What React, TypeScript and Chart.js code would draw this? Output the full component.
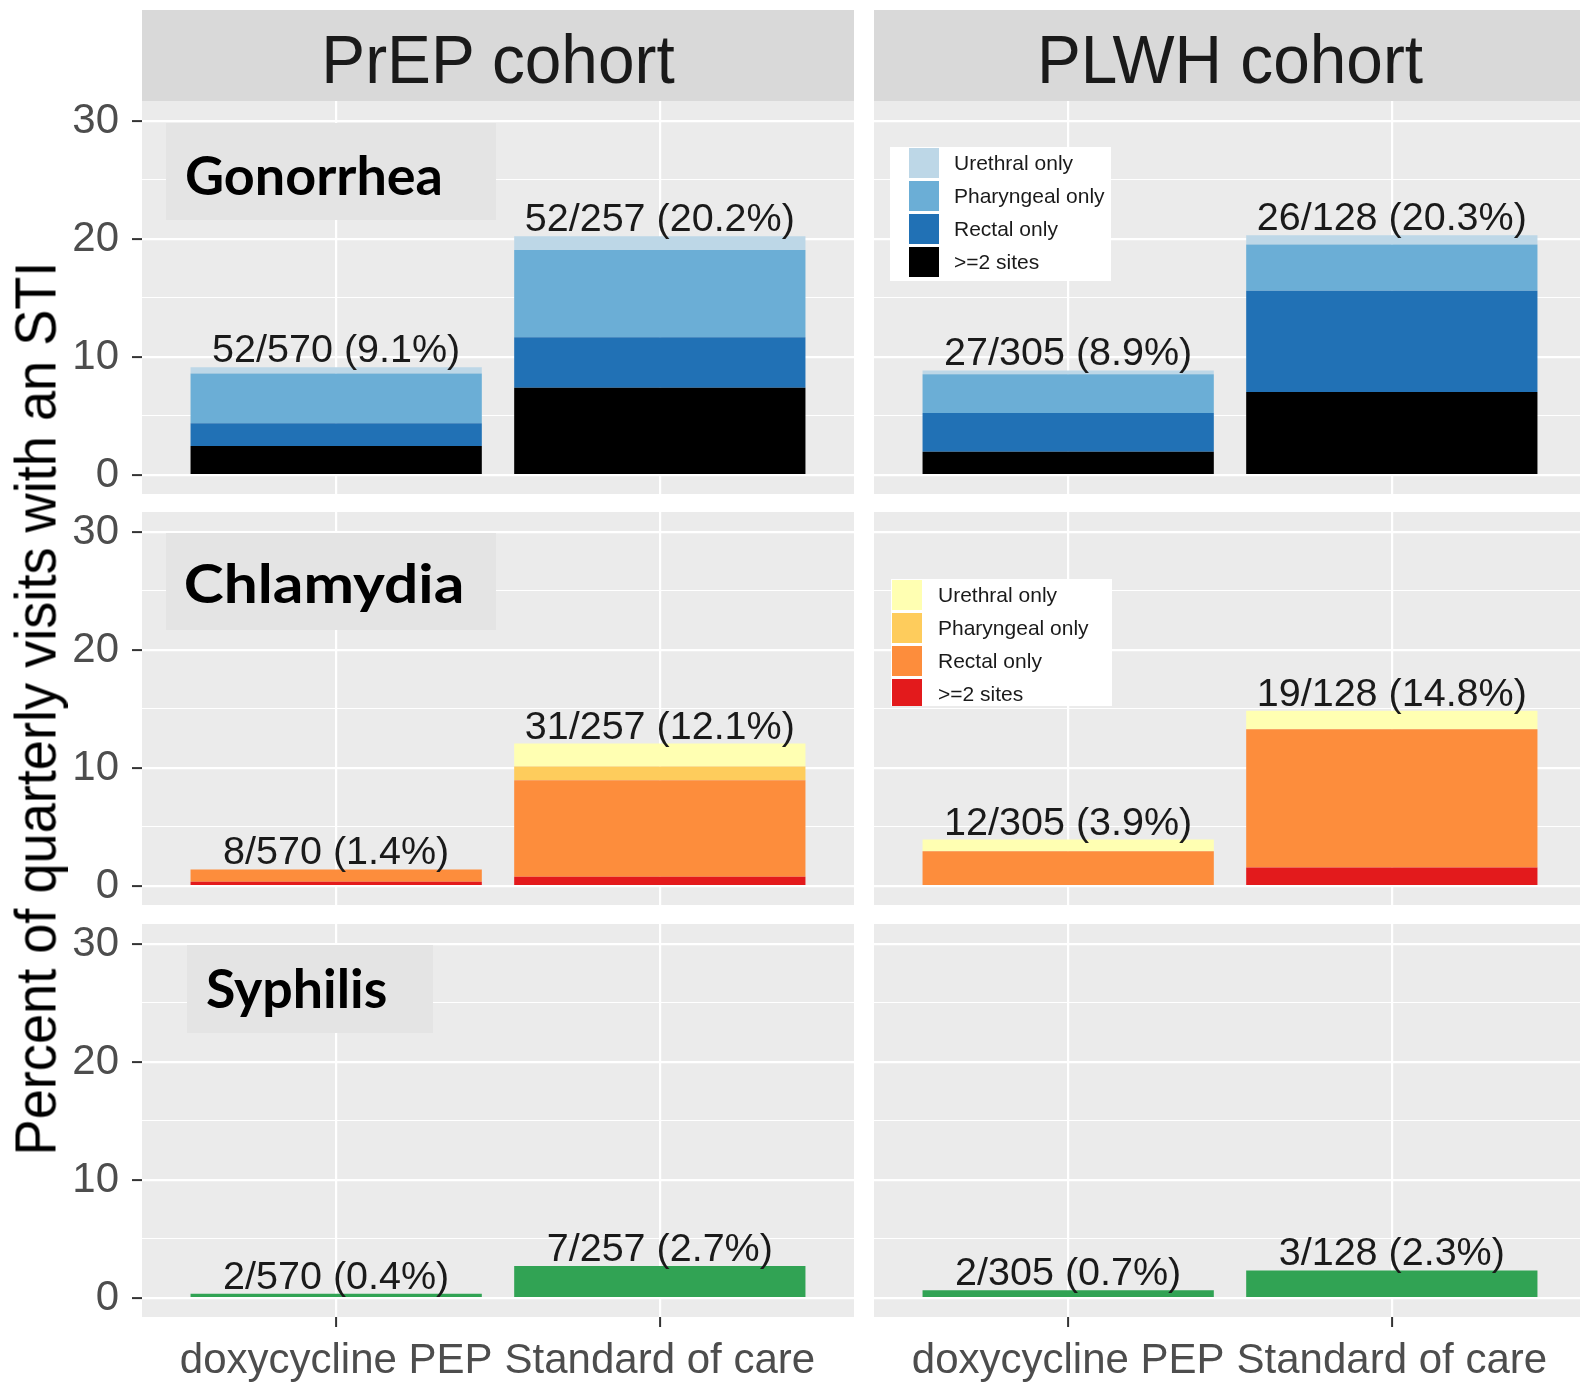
import React, { useEffect, useRef } from 'react';
import { Chart, registerables } from 'chart.js';

Chart.register(...registerables);

const SANS = "'Liberation Sans', Arial, Helvetica, sans-serif";
const TAG_FONT = "Lato, 'Open Sans', sans-serif";

// ---------- categories and labels ----------
const cohorts = ['PrEP cohort', 'PLWH cohort'];
const arms = ['doxycycline PEP', 'Standard of care'];
const infections = ['Gonorrhea', 'Chlamydia', 'Syphilis'];
const sites = ['>=2 sites', 'Rectal only', 'Pharyngeal only', 'Urethral only']; // stacked bottom -> top
const legendSites = ['Urethral only', 'Pharyngeal only', 'Rectal only', '>=2 sites'];
const yTickValues = [0, 5, 10, 15, 20, 25, 30];
const yAxisTitle = 'Percent of quarterly visits with an STI';

// ---------- values: percent of quarterly visits, [doxycycline PEP, Standard of care] ----------
const gonPrepMulti = [2.46, 7.39];
const gonPrepRectal = [1.93, 4.28];
const gonPrepPharyngeal = [4.21, 7.39];
const gonPrepUrethral = [0.53, 1.17];
const gonPrepLabels = ['52/570 (9.1%)', '52/257 (20.2%)'];

const gonPlwhMulti = [1.97, 7.03];
const gonPlwhRectal = [3.28, 8.59];
const gonPlwhPharyngeal = [3.28, 3.91];
const gonPlwhUrethral = [0.33, 0.78];
const gonPlwhLabels = ['27/305 (8.9%)', '26/128 (20.3%)'];

const chlPrepMulti = [0.35, 0.78];
const chlPrepRectal = [1.05, 8.17];
const chlPrepPharyngeal = [0, 1.17];
const chlPrepUrethral = [0, 1.95];
const chlPrepLabels = ['8/570 (1.4%)', '31/257 (12.1%)'];

const chlPlwhMulti = [0, 1.56];
const chlPlwhRectal = [2.95, 11.72];
const chlPlwhPharyngeal = [0, 0];
const chlPlwhUrethral = [0.98, 1.56];
const chlPlwhLabels = ['12/305 (3.9%)', '19/128 (14.8%)'];

const syphPrep = [0.35, 2.72];
const syphPrepLabels = ['2/570 (0.4%)', '7/257 (2.7%)'];
const syphPlwh = [0.66, 2.34];
const syphPlwhLabels = ['2/305 (0.7%)', '3/128 (2.3%)'];

// ---------- colours ----------
const gonorrheaColors = ['#000000', '#2171b5', '#6baed6', '#bdd7e7'];
const chlamydiaColors = ['#e31a1c', '#fd8d3c', '#fecc5c', '#ffffb2'];
const syphilisColors = ['#31a354'];

// ---------- layout ----------
const W = 1580;
const H = 1383;
const STRIP_TOP = 10;
const STRIP_H = 91;
const ROW_TOPS = [101, 512, 924];
const PANEL_H = 393;
const COL_LEFTS = [142, 874];
const PANEL_W = 712;
const Y_AXIS_W = 142;
const X_AXIS_H = H - (ROW_TOPS[2] + PANEL_H);
const EDGE = 12;
const Y_MIN = -1.61;
const Y_MAX = 31.69;

const TAG_GEOM = [
  { dx: 24, dy: 22, w: 330, h: 97, tx: 20, ty: 72, textW: 254 },
  { dx: 24, dy: 21, w: 330, h: 97, tx: 20, ty: 70, textW: 275 },
  { dx: 45, dy: 21, w: 246, h: 88, tx: 20, ty: 63, textW: 179 },
];
const LEGEND_GEOM = [
  { dx: 16, dy: 46, w: 221, h: 134, keyX: 19, keyY: 1, step: 33, keyW: 30, keyH: 30, textX: 64 },
  { dx: 17, dy: 67, w: 221, h: 127, keyX: 1, keyY: 1, step: 33, keyW: 30, keyH: 30, textX: 47 },
];

type Spec = {
  row: number;
  col: number;
  series: number[][];
  names: string[];
  colors: string[];
  labels: string[];
};

const panels: Spec[] = [
  { row: 0, col: 0, series: [gonPrepMulti, gonPrepRectal, gonPrepPharyngeal, gonPrepUrethral], names: sites, colors: gonorrheaColors, labels: gonPrepLabels },
  { row: 0, col: 1, series: [gonPlwhMulti, gonPlwhRectal, gonPlwhPharyngeal, gonPlwhUrethral], names: sites, colors: gonorrheaColors, labels: gonPlwhLabels },
  { row: 1, col: 0, series: [chlPrepMulti, chlPrepRectal, chlPrepPharyngeal, chlPrepUrethral], names: sites, colors: chlamydiaColors, labels: chlPrepLabels },
  { row: 1, col: 1, series: [chlPlwhMulti, chlPlwhRectal, chlPlwhPharyngeal, chlPlwhUrethral], names: sites, colors: chlamydiaColors, labels: chlPlwhLabels },
  { row: 2, col: 0, series: [syphPrep], names: ['Syphilis'], colors: syphilisColors, labels: syphPrepLabels },
  { row: 2, col: 1, series: [syphPlwh], names: ['Syphilis'], colors: syphilisColors, labels: syphPlwhLabels },
];

function geometry(row: number, col: number) {
  const isLeft = col === 0;
  const isBottom = row === ROW_TOPS.length - 1;
  const left = isLeft ? COL_LEFTS[0] - Y_AXIS_W : COL_LEFTS[1];
  const width = isLeft ? Y_AXIS_W + PANEL_W : PANEL_W;
  const top = ROW_TOPS[row] - EDGE;
  const height = EDGE + PANEL_H + (isBottom ? X_AXIS_H : EDGE);
  return { isLeft, isBottom, left, width, top, height };
}

function PanelChart({ spec }: { spec: Spec }) {
  const ref = useRef<HTMLCanvasElement>(null);
  const g = geometry(spec.row, spec.col);

  useEffect(() => {
    const canvas = ref.current;
    if (!canvas) return;
    const { isLeft, isBottom } = g;
    const showTag = spec.col === 0;
    const showLegend = spec.col === 1 && spec.names.length > 1;

    const panelPlugin = {
      id: 'panelDecor',
      beforeDraw(chart: any) {
        const { ctx, chartArea: a } = chart;
        ctx.save();
        ctx.fillStyle = '#ebebeb';
        ctx.fillRect(a.left, a.top, a.right - a.left, a.bottom - a.top);
        ctx.restore();
      },
      afterDatasetsDraw(chart: any) {
        const { ctx } = chart;
        const xs = chart.scales.x;
        const ys = chart.scales.y;
        ctx.save();
        ctx.font = `39.5px ${SANS}`;
        ctx.fillStyle = '#1a1a1a';
        ctx.textAlign = 'center';
        ctx.textBaseline = 'alphabetic';
        spec.labels.forEach((label, i) => {
          const total = spec.series.reduce((s, arr) => s + arr[i], 0);
          ctx.fillText(label, xs.getPixelForValue(i + 1), ys.getPixelForValue(total) - 5);
        });
        ctx.restore();
      },
      afterDraw(chart: any) {
        const { ctx, chartArea: a } = chart;
        if (showTag) {
          const t = TAG_GEOM[spec.row];
          const bx = a.left + t.dx;
          const by = a.top + t.dy;
          ctx.save();
          ctx.fillStyle = '#e4e4e4';
          ctx.fillRect(bx, by, t.w, t.h);
          ctx.font = `bold 53px ${TAG_FONT}`;
          ctx.fillStyle = '#000000';
          ctx.textAlign = 'left';
          ctx.textBaseline = 'alphabetic';
          const name = infections[spec.row];
          const m = ctx.measureText(name);
          const ink = m.actualBoundingBoxLeft + m.actualBoundingBoxRight;
          ctx.translate(bx + t.tx, by + t.ty);
          ctx.scale(t.textW / ink, 1);
          ctx.fillText(name, m.actualBoundingBoxLeft, 0);
          ctx.restore();
        }
        if (showLegend) {
          const l = LEGEND_GEOM[spec.row];
          const bx = a.left + l.dx;
          const by = a.top + l.dy;
          ctx.save();
          ctx.fillStyle = '#ffffff';
          ctx.fillRect(bx, by, l.w, l.h);
          ctx.beginPath();
          ctx.rect(bx, by, l.w, l.h);
          ctx.clip();
          ctx.font = `21px ${SANS}`;
          ctx.textAlign = 'left';
          ctx.textBaseline = 'middle';
          legendSites.forEach((name, k) => {
            const color = spec.colors[spec.names.indexOf(name)];
            const ky = by + l.keyY + k * l.step;
            ctx.fillStyle = color;
            ctx.fillRect(bx + l.keyX, ky, l.keyW, l.keyH);
            ctx.fillStyle = '#1a1a1a';
            ctx.fillText(name, bx + l.textX, ky + l.keyH / 2 + 1);
          });
          ctx.restore();
        }
      },
    };

    const chart = new Chart(canvas, {
      type: 'bar',
      data: {
        datasets: spec.series.map((vals, k) => ({
          label: spec.names[k],
          data: vals.map((v, i) => ({ x: i + 1, y: v })),
          backgroundColor: spec.colors[k],
          borderWidth: 0,
          barPercentage: 0.9,
          categoryPercentage: 1,
        })),
      },
      options: {
        animation: false,
        responsive: false,
        maintainAspectRatio: false,
        devicePixelRatio: 1,
        events: [],
        layout: { padding: { top: EDGE, bottom: isBottom ? 0 : EDGE, left: 0, right: 0 } },
        plugins: {
          legend: { display: false },
          tooltip: { enabled: false },
          title: { display: false },
        },
        scales: {
          x: {
            type: 'linear',
            min: 0.4,
            max: 2.6,
            offset: false,
            stacked: true,
            afterBuildTicks: (s: any) => {
              s.ticks = arms.map((_, i) => ({ value: i + 1 }));
            },
            afterFit: (s: any) => {
              s.height = isBottom ? X_AXIS_H : 0;
              s.paddingLeft = 0;
              s.paddingRight = 0;
            },
            border: { display: false },
            grid: {
              offset: false,
              color: '#ffffff',
              lineWidth: 2.2,
              drawTicks: isBottom,
              tickLength: 10,
              tickColor: '#333333',
              tickWidth: 2,
            },
            ticks: {
              display: isBottom,
              autoSkip: false,
              maxRotation: 0,
              minRotation: 0,
              padding: 9,
              color: '#4d4d4d',
              font: { family: SANS, size: 42 },
              callback: (v: any) => arms[Number(v) - 1] ?? '',
            },
          },
          y: {
            type: 'linear',
            min: Y_MIN,
            max: Y_MAX,
            stacked: true,
            afterBuildTicks: (s: any) => {
              s.ticks = yTickValues.map((v) => ({ value: v }));
            },
            afterFit: (s: any) => {
              s.width = isLeft ? Y_AXIS_W : 0;
              s.paddingTop = 0;
              s.paddingBottom = 0;
            },
            border: { display: false },
            grid: {
              color: '#ffffff',
              lineWidth: (c: any) => (c.tick && c.tick.value % 10 === 0 ? 2.2 : 1.1),
              drawTicks: isLeft,
              tickLength: 10,
              tickWidth: 2,
              tickColor: (c: any) => (c.tick && c.tick.value % 10 === 0 ? '#333333' : 'rgba(0,0,0,0)'),
            },
            ticks: {
              display: isLeft,
              autoSkip: false,
              padding: 13,
              color: '#4d4d4d',
              font: { family: SANS, size: 42 },
              callback: (v: any) => (Number(v) % 10 === 0 ? String(v) : ''),
            },
          },
        },
      },
      plugins: [panelPlugin],
    } as any);
    return () => chart.destroy();
  }, [spec]);

  return (
    <canvas
      ref={ref}
      width={g.width}
      height={g.height}
      style={{ position: 'absolute', left: g.left, top: g.top, width: g.width, height: g.height }}
    />
  );
}

export default function App() {
  return (
    <div
      style={{
        position: 'absolute',
        left: 0,
        top: 0,
        width: W,
        height: H,
        overflow: 'hidden',
        background: '#ffffff',
        fontFamily: SANS,
      }}
    >
      {panels.map((p) => (
        <PanelChart key={`${p.row}-${p.col}`} spec={p} />
      ))}
      {cohorts.map((c, i) => (
        <div
          key={c}
          style={{
            position: 'absolute',
            left: COL_LEFTS[i],
            top: STRIP_TOP,
            width: PANEL_W,
            height: STRIP_H,
            background: '#d9d9d9',
            overflow: 'hidden',
          }}
        >
          <div
            style={{
              position: 'absolute',
              left: 0,
              top: 15,
              width: '100%',
              lineHeight: '68px',
              fontSize: 68,
              color: '#1a1a1a',
              textAlign: 'center',
              whiteSpace: 'nowrap',
              transform: 'scaleX(0.967)',
            }}
          >
            {c}
          </div>
        </div>
      ))}
      <div
        style={{
          position: 'absolute',
          left: 36 - 500,
          top: 708 - 28.5,
          width: 1000,
          height: 57,
          lineHeight: '57px',
          fontSize: 57,
          color: '#000000',
          textAlign: 'center',
          whiteSpace: 'nowrap',
          transform: 'rotate(-90deg) scaleX(0.95)',
        }}
      >
        {yAxisTitle}
      </div>
    </div>
  );
}
